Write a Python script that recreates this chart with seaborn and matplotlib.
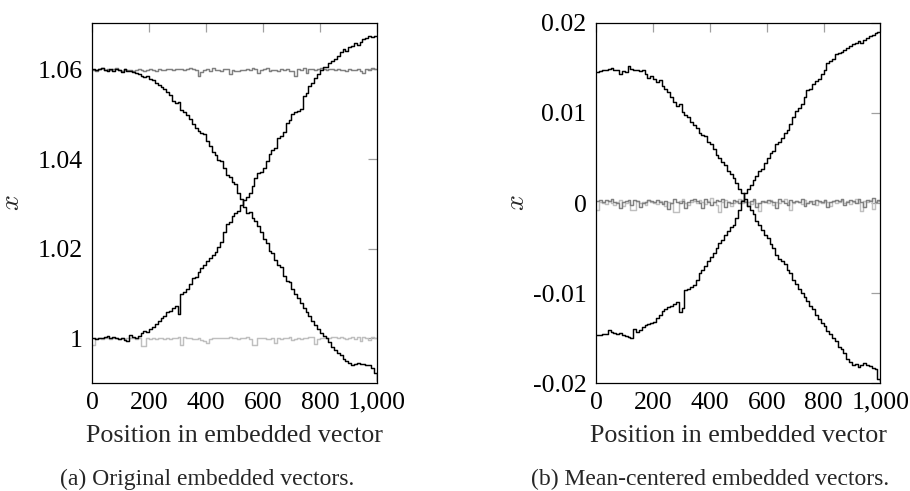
import numpy as np
import pandas as pd
import matplotlib
matplotlib.use("Agg")
import matplotlib.pyplot as plt
import seaborn as sns

# ---------------- data ----------------
positions = list(range(0, 1001, 10))

a_desc = [1.0600,1.0598,1.0601,1.0602,1.0599,1.0597,1.0600,1.0596,1.0601,1.0599,
          1.0595,1.0600,1.0596,1.0597,1.0594,1.0592,1.0589,1.0586,1.0583,1.0585,
          1.0578,1.0576,1.0570,1.0566,1.0560,1.0556,1.0550,1.0543,1.0530,1.0525,
          1.0528,1.0510,1.0505,1.0498,1.0490,1.0478,1.0470,1.0462,1.0458,1.0455,
          1.0440,1.0428,1.0415,1.0410,1.0398,1.0395,1.0380,1.0365,1.0360,1.0348,
          1.0345,1.0325,1.0310,1.0293,1.0280,1.0283,1.0268,1.0262,1.0250,1.0238,
          1.0222,1.0212,1.0195,1.0190,1.0175,1.0163,1.0160,1.0140,1.0128,1.0125,
          1.0110,1.0098,1.0090,1.0078,1.0068,1.0058,1.0050,1.0038,1.0030,1.0022,
          1.0012,1.0005,1.0000,0.9992,0.9982,0.9975,0.9968,0.9962,0.9955,0.9950,
          0.9945,0.9940,0.9943,0.9945,0.9942,0.9944,0.9940,0.9940,0.9935,0.9922,
          0.9905]

a_asc = [1.0000,0.9998,1.0001,1.0000,1.0003,1.0006,1.0001,1.0003,1.0000,0.9999,
         1.0001,0.9996,0.9994,1.0008,1.0004,1.0002,1.0005,1.0012,1.0016,1.0015,
         1.0020,1.0026,1.0032,1.0040,1.0046,1.0050,1.0058,1.0062,1.0068,1.0072,
         1.0054,1.0098,1.0104,1.0110,1.0122,1.0135,1.0138,1.0148,1.0158,1.0164,
         1.0172,1.0180,1.0186,1.0192,1.0205,1.0215,1.0238,1.0255,1.0260,1.0272,
         1.0280,1.0284,1.0298,1.0308,1.0315,1.0325,1.0340,1.0358,1.0368,1.0372,
         1.0380,1.0395,1.0412,1.0420,1.0425,1.0448,1.0452,1.0460,1.0480,1.0488,
         1.0500,1.0506,1.0508,1.0512,1.0540,1.0547,1.0562,1.0570,1.0580,1.0590,
         1.0598,1.0605,1.0606,1.0614,1.0618,1.0622,1.0630,1.0638,1.0645,1.0642,
         1.0650,1.0652,1.0658,1.0655,1.0662,1.0668,1.0670,1.0675,1.0672,1.0674,
         1.0674]

a_gray_dark = [1.0598,1.0597,1.0600,1.0602,1.0599,1.0601,1.0598,1.0600,1.0603,1.0599,
               1.0597,1.0600,1.0599,1.0598,1.0596,1.0598,1.0600,1.0599,1.0597,1.0599,
               1.0600,1.0598,1.0597,1.0600,1.0599,1.0598,1.0600,1.0601,1.0599,1.0600,
               1.0600,1.0601,1.0599,1.0600,1.0604,1.0600,1.0599,1.0586,1.0595,1.0598,
               1.0601,1.0597,1.0603,1.0599,1.0598,1.0596,1.0600,1.0601,1.0590,1.0598,
               1.0596,1.0597,1.0598,1.0599,1.0600,1.0598,1.0604,1.0600,1.0591,1.0599,
               1.0600,1.0603,1.0597,1.0599,1.0598,1.0596,1.0601,1.0598,1.0600,1.0596,
               1.0597,1.0586,1.0601,1.0598,1.0602,1.0592,1.0600,1.0601,1.0599,1.0600,
               1.0602,1.0600,1.0599,1.0601,1.0600,1.0598,1.0601,1.0599,1.0598,1.0596,
               1.0600,1.0599,1.0598,1.0600,1.0596,1.0592,1.0600,1.0598,1.0602,1.0601,
               1.0601]

a_gray_light = [0.9986,1.0000,1.0001,0.9999,1.0000,1.0002,0.9998,1.0000,1.0001,0.9999,
                1.0000,0.9999,1.0001,1.0000,1.0002,0.9999,1.0001,0.9984,0.9984,1.0000,
                0.9998,1.0001,0.9999,1.0000,1.0001,0.9998,1.0002,0.9999,1.0001,1.0000,
                1.0003,0.9986,1.0004,1.0000,1.0001,0.9999,0.9998,1.0000,0.9996,0.9994,
                0.9990,0.9998,1.0000,1.0001,1.0002,1.0001,1.0000,1.0002,1.0003,1.0000,
                1.0000,0.9999,1.0001,1.0002,1.0004,0.9998,0.9985,0.9985,1.0002,1.0001,
                1.0000,0.9999,0.9999,1.0000,0.9989,1.0000,0.9999,1.0000,1.0001,1.0003,
                0.9996,0.9998,1.0000,0.9999,1.0002,1.0001,1.0003,1.0004,0.9987,0.9999,
                1.0001,1.0000,1.0002,1.0001,1.0004,1.0003,1.0000,1.0004,1.0000,0.9998,
                1.0001,1.0003,0.9998,1.0004,0.9994,1.0003,1.0001,0.9996,1.0004,1.0002,
                1.0002]

b_desc = [0.0145,0.0146,0.0148,0.0147,0.0149,0.0150,0.0148,0.0147,0.0143,0.0146,
          0.0145,0.0152,0.0149,0.0147,0.0148,0.0146,0.0147,0.0143,0.0139,0.0141,
          0.0137,0.0134,0.0136,0.0130,0.0126,0.0123,0.0118,0.0112,0.0108,0.0110,
          0.0101,0.0098,0.0095,0.0090,0.0086,0.0083,0.0078,0.0075,0.0074,0.0068,
          0.0066,0.0060,0.0053,0.0050,0.0045,0.0042,0.0036,0.0032,0.0028,0.0022,
          0.0015,0.0011,0.0004,-0.0003,-0.0008,-0.0012,-0.0020,-0.0024,-0.0030,-0.0035,
          -0.0039,-0.0045,-0.0050,-0.0058,-0.0062,-0.0064,-0.0068,-0.0074,-0.0078,-0.0085,
          -0.0090,-0.0095,-0.0100,-0.0104,-0.0109,-0.0114,-0.0118,-0.0124,-0.0129,-0.0133,
          -0.0136,-0.0142,-0.0145,-0.0150,-0.0153,-0.0160,-0.0162,-0.0166,-0.0173,-0.0176,
          -0.0180,-0.0179,-0.0182,-0.0180,-0.0178,-0.0180,-0.0181,-0.0183,-0.0184,-0.0195,
          -0.0198]

b_asc = [-0.0146,-0.0146,-0.0145,-0.0145,-0.0141,-0.0143,-0.0144,-0.0145,-0.0144,-0.0146,
         -0.0147,-0.0149,-0.0150,-0.0140,-0.0143,-0.0141,-0.0138,-0.0135,-0.0134,-0.0133,
         -0.0132,-0.0128,-0.0124,-0.0120,-0.0118,-0.0115,-0.0114,-0.0112,-0.0110,-0.0121,
         -0.0117,-0.0097,-0.0095,-0.0093,-0.0091,-0.0085,-0.0078,-0.0074,-0.0070,-0.0064,
         -0.0060,-0.0055,-0.0050,-0.0044,-0.0041,-0.0036,-0.0031,-0.0027,-0.0024,-0.0017,
         -0.0008,0.0002,0.0011,0.0015,0.0020,0.0026,0.0030,0.0036,0.0038,0.0044,
         0.0050,0.0055,0.0058,0.0066,0.0068,0.0072,0.0078,0.0081,0.0088,0.0095,
         0.0102,0.0105,0.0110,0.0118,0.0125,0.0127,0.0132,0.0135,0.0137,0.0143,
         0.0148,0.0155,0.0157,0.0160,0.0165,0.0166,0.0168,0.0170,0.0172,0.0174,
         0.0176,0.0177,0.0180,0.0178,0.0181,0.0183,0.0185,0.0186,0.0189,0.0190,
         0.0190]

b_gray_dark = [0.0002,0.0003,0.0001,0.0003,0.0002,0.0004,0.0001,0.0000,-0.0006,0.0001,
               0.0002,0.0003,-0.0002,0.0003,0.0002,-0.0004,0.0000,0.0001,0.0003,0.0002,
               0.0001,0.0003,0.0001,-0.0001,0.0002,-0.0007,0.0000,0.0004,0.0001,0.0000,
               0.0002,-0.0005,0.0001,0.0003,0.0004,0.0002,0.0000,-0.0006,0.0004,0.0001,
               -0.0002,0.0001,0.0003,0.0002,0.0004,-0.0004,0.0001,0.0000,0.0003,0.0002,
               0.0000,0.0003,0.0001,-0.0003,0.0002,0.0004,-0.0004,0.0000,0.0002,0.0001,
               0.0003,0.0002,0.0001,-0.0005,0.0004,0.0002,0.0000,-0.0002,0.0003,0.0001,
               0.0002,0.0001,0.0004,-0.0003,0.0000,0.0002,-0.0001,0.0003,0.0002,0.0001,
               0.0003,-0.0004,0.0001,0.0002,0.0003,0.0002,0.0004,-0.0002,0.0001,0.0003,
               0.0002,0.0000,0.0004,0.0001,-0.0004,0.0003,0.0002,0.0005,0.0001,0.0003,
               0.0002]

b_gray_light = [-0.0008,0.0001,0.0000,-0.0001,0.0002,0.0000,-0.0002,0.0001,0.0003,-0.0003,
                0.0000,0.0001,-0.0008,-0.0008,0.0002,0.0000,0.0001,-0.0002,0.0003,0.0001,
                0.0000,-0.0001,0.0002,0.0000,-0.0003,0.0001,0.0000,-0.0010,-0.0010,0.0002,
                0.0004,0.0000,-0.0002,0.0001,0.0002,0.0000,0.0003,0.0001,-0.0001,0.0002,
                0.0005,0.0001,-0.0002,-0.0010,0.0001,0.0003,0.0001,-0.0003,0.0000,0.0001,
                0.0004,0.0000,0.0002,0.0001,-0.0001,0.0003,0.0000,-0.0009,0.0001,0.0002,
                0.0000,0.0003,-0.0002,0.0001,0.0000,0.0002,0.0004,0.0001,-0.0008,0.0000,
                0.0002,0.0001,-0.0001,0.0003,0.0000,0.0001,0.0002,-0.0002,0.0001,0.0000,
                0.0003,0.0001,-0.0003,0.0002,0.0000,0.0001,0.0003,0.0000,0.0002,-0.0001,
                0.0001,0.0004,0.0000,-0.0009,0.0002,0.0001,0.0003,-0.0007,0.0001,0.0002,
                0.0001]

x_ticks = [0, 200, 400, 600, 800, 1000]
x_ticklabels = ["0", "200", "400", "600", "800", "1,000"]
a_yticks = [1.00, 1.02, 1.04, 1.06]
a_yticklabels = ["1", "1.02", "1.04", "1.06"]
b_yticks = [-0.02, -0.01, 0.0, 0.01, 0.02]
b_yticklabels = ["-0.02", "-0.01", "0", "0.01", "0.02"]
x_label = "Position in embedded vector"
y_label = "$x$"
captions = ["(a) Original embedded vectors.", "(b) Mean-centered embedded vectors."]

# ---------------- style ----------------
sns.set_theme(style="white")
plt.rcParams["font.family"] = ["Liberation Serif", "DejaVu Serif"]
plt.rcParams["mathtext.fontset"] = "cm"

W, H = 910, 491
fig = plt.figure(figsize=(W / 100, H / 100), dpi=100)

def px_axes(left, top, right, bottom):
    return fig.add_axes([left / W, 1 - bottom / H, (right - left) / W, (bottom - top) / H])

ax_a = px_axes(92.3, 22.7, 376.7, 383.3)
ax_b = px_axes(596.3, 22.7, 880.3, 383.3)

DARK = "#808080"
LIGHT = "#bfbfbf"
LW = 1.05

def draw(ax, series):
    for vals, col in series:
        df = pd.DataFrame({"pos": positions, "val": vals})
        sns.lineplot(data=df, x="pos", y="val", ax=ax, color=col, linewidth=LW,
                     drawstyle="steps-post", estimator=None, sort=False)

draw(ax_a, [(a_gray_light, LIGHT), (a_gray_dark, DARK), (a_desc, "black"), (a_asc, "black")])
draw(ax_b, [(b_gray_light, LIGHT), (b_gray_dark, DARK), (b_desc, "black"), (b_asc, "black")])

ax_a.set_ylim(0.99, 1.0704)
ax_b.set_ylim(-0.02, 0.02)

TICK_FS = 18.5
LABEL_FS = 18.7

for ax, yt, ytl in [(ax_a, a_yticks, a_yticklabels), (ax_b, b_yticks, b_yticklabels)]:
    ax.set_xlim(0, 1000)
    ax.set_xticks(x_ticks)
    ax.set_xticklabels(x_ticklabels)
    ax.set_yticks(yt)
    ax.set_yticklabels(ytl)
    ax.tick_params(direction="in", top=True, right=True, length=6.5, width=0.9,
                   color="#a0a0a0", labelsize=TICK_FS, labelcolor="black", pad=6)
    ax.tick_params(axis="y", pad=7)
    for s in ax.spines.values():
        s.set_color("black")
        s.set_linewidth(0.9)
    ax.set_xlabel(x_label, fontsize=LABEL_FS, labelpad=8)
    ax.set_ylabel(y_label, fontsize=20)
    ax.grid(False)

ax_a.yaxis.set_label_coords(-0.235, 0.5)
ax_b.yaxis.set_label_coords(-0.232, 0.5)

fig.text(207 / W, 1 - 479 / H, captions[0], ha="center", va="center", fontsize=17)
fig.text(710 / W, 1 - 479 / H, captions[1], ha="center", va="center", fontsize=17)

fig.savefig("out.png", dpi=100)
